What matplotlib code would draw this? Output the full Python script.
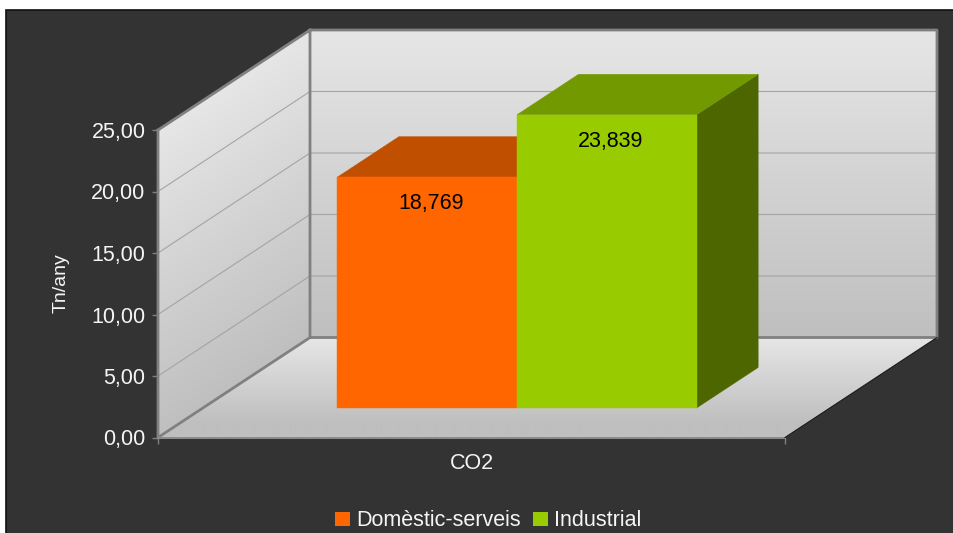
import numpy as np
import matplotlib
matplotlib.use('Agg')
import matplotlib.pyplot as plt
from matplotlib.colors import LinearSegmentedColormap
from matplotlib.patches import Polygon, Rectangle

# chart data
categories = ['CO2']
series_names = ['Domèstic-serveis', 'Industrial']
series_values = [18.769, 23.839]
value_labels = ['18,769', '23,839']
y_ticks = [0, 5, 10, 15, 20, 25]
y_tick_labels = ['0,00', '5,00', '10,00', '15,00', '20,00', '25,00']

face_colors = ['#ff6600', '#99cc00']
top_colors = ['#c05000', '#739900']
side_colors = ['#994000', '#4d6600']

W, H = 954, 533
PLOT_LEFT, PLOT_RIGHT = 158, 785
PLOT_TOP, PLOT_BOTTOM = 130, 437.5
Y_MAX = 25
# oblique projection: how far the back wall is shifted, in data units
DEPTH_X = 152 / (PLOT_RIGHT - PLOT_LEFT)
DEPTH_Y = 100 / ((PLOT_BOTTOM - PLOT_TOP) / Y_MAX)
BAR_FRONT, BAR_BACK = 0.295, 0.70
BAR_WIDTH = 0.2865
FONT_SIZE = 15.5

plt.rcParams['font.family'] = ['Liberation Sans', 'DejaVu Sans']
TEXT = '#f5f5f5'
EDGE = '#808080'
GRID = '#a4a4a4'


def proj(x, v, d):
    """Data position (x, value, depth) to the flat axes position"""
    return x + d * DEPTH_X, v + d * DEPTH_Y


def face(ax, pts, color, z):
    ax.add_patch(Polygon([proj(*p) for p in pts], closed=True, facecolor=color,
                         edgecolor=color, linewidth=0.3, clip_on=False, zorder=z))


def gradient(ax, pts, func, z):
    """Fill a polygon with a grey gradient, func gives 0 (dark) to 1 (light)"""
    xy = np.array([proj(*p) for p in pts])
    x0, x1 = xy[:, 0].min(), xy[:, 0].max()
    y0, y1 = xy[:, 1].min(), xy[:, 1].max()
    xx, yy = np.meshgrid(np.linspace(x0, x1, 200), np.linspace(y0, y1, 400))
    im = ax.imshow(np.clip(func(xx, yy), 0, 1), extent=(x0, x1, y0, y1), origin='lower', cmap=wall_cmap,
                   vmin=0, vmax=1, aspect='auto', interpolation='bilinear', zorder=z)
    clip = Polygon(xy, closed=True, transform=ax.transData)
    im.set_clip_path(clip)
    im.set_clip_box(fig.bbox)


def line(ax, pts, color, lw, z):
    xy = [proj(*p) for p in pts]
    ax.plot([p[0] for p in xy], [p[1] for p in xy], color=color, linewidth=lw,
            clip_on=False, zorder=z, solid_capstyle='projecting')


fig = plt.figure(figsize=(W / 100, H / 100), dpi=100, facecolor='white')
fig.patches.append(Rectangle((6.5 / W, -0.02), (W + 10) / W, 1.02 - 10 / H, transform=fig.transFigure,
                             facecolor='#333333', edgecolor='#111111', linewidth=1.2,
                             figure=fig, zorder=-1))

ax = fig.add_axes([PLOT_LEFT / W, 1 - PLOT_BOTTOM / H,
                   (PLOT_RIGHT - PLOT_LEFT) / W, (PLOT_BOTTOM - PLOT_TOP) / H])
ax.patch.set_visible(False)
wall_cmap = LinearSegmentedColormap.from_list('wall', ['#bfbfbf', '#e6e6e6'])

# back wall, side wall and floor
gradient(ax, [(0, 0, 1), (1, 0, 1), (1, Y_MAX, 1), (0, Y_MAX, 1)],
         lambda xx, yy: (yy - DEPTH_Y) / Y_MAX, 1)
gradient(ax, [(0, 0, 0), (0, 0, 1), (0, Y_MAX, 1), (0, Y_MAX, 0)],
         lambda xx, yy: (yy - xx / DEPTH_X * DEPTH_Y) / Y_MAX, 1)
gradient(ax, [(0, 0, 0), (1, 0, 0), (1, 0, 1), (0, 0, 1)],
         lambda xx, yy: (yy / DEPTH_Y - 0.15) / 0.85, 1)

for tick in y_ticks[1:-1]:
    line(ax, [(0, tick, 0), (0, tick, 1), (1, tick, 1)], GRID, 0.8, 2)

line(ax, [(0, Y_MAX, 0), (0, Y_MAX, 1), (1, Y_MAX, 1), (1, 0, 1), (0, 0, 1), (0, Y_MAX, 1)], EDGE, 2, 3)
line(ax, [(0, 0, 1), (0, 0, 0), (0, Y_MAX, 0)], EDGE, 2, 3)
line(ax, [(0, 0, 0), (1, 0, 0)], '#8c8c8c', 1.4, 3)
line(ax, [(1, 0, 0), (1, 0, 1)], '#1a1a1a', 0.8, 3)

# bars
left_edge = 0.5 - BAR_WIDTH * len(series_values) / 2 + 0.001
for i, value in enumerate(series_values):
    x0 = left_edge + i * BAR_WIDTH
    x1 = x0 + BAR_WIDTH
    z = 5 + i
    face(ax, [(x1, 0, BAR_FRONT), (x1, 0, BAR_BACK), (x1, value, BAR_BACK), (x1, value, BAR_FRONT)],
         side_colors[i], z)
    face(ax, [(x0, value, BAR_FRONT), (x1, value, BAR_FRONT), (x1, value, BAR_BACK), (x0, value, BAR_BACK)],
         top_colors[i], z)
    face(ax, [(x0, 0, BAR_FRONT), (x1, 0, BAR_FRONT), (x1, value, BAR_FRONT), (x0, value, BAR_FRONT)],
         face_colors[i], z)
    ax.annotate(value_labels[i], proj((x0 + x1) / 2, value, BAR_FRONT), xytext=(3, -19),
                textcoords='offset points', ha='center', va='center',
                fontsize=FONT_SIZE, color='black', zorder=10, annotation_clip=False)

# axes
ax.set_xlim(0, 1)
ax.set_ylim(0, Y_MAX)
for spine in ax.spines.values():
    spine.set_visible(False)
ax.set_yticks(y_ticks, y_tick_labels)
ax.set_xticks([0, 1], ['', ''])
ax.set_xticks([0.5], categories, minor=True)
ax.tick_params(axis='y', length=4, width=1, color=EDGE, labelcolor=TEXT, labelsize=FONT_SIZE, pad=5)
ax.tick_params(axis='x', which='major', length=4, width=1, color=EDGE)
ax.tick_params(axis='x', which='minor', length=0, labelcolor=TEXT, labelsize=FONT_SIZE, pad=11)
ax.set_ylabel('Tn/any', color=TEXT, fontsize=14)
ax.yaxis.set_label_coords(70 / W, 1 - 283 / H, transform=fig.transFigure)

handles = [Rectangle((0, 0), 1, 1, facecolor=c) for c in face_colors]
ax.legend(handles, series_names, loc='center', bbox_to_anchor=(488 / W, 1 - 521 / H),
          bbox_transform=fig.transFigure, ncol=2, frameon=False, labelcolor=TEXT, fontsize=FONT_SIZE,
          handlelength=0.7, handleheight=0.6, handletextpad=0.3, columnspacing=0.55)

fig.savefig('out.png', dpi=100)
plt.close(fig)
